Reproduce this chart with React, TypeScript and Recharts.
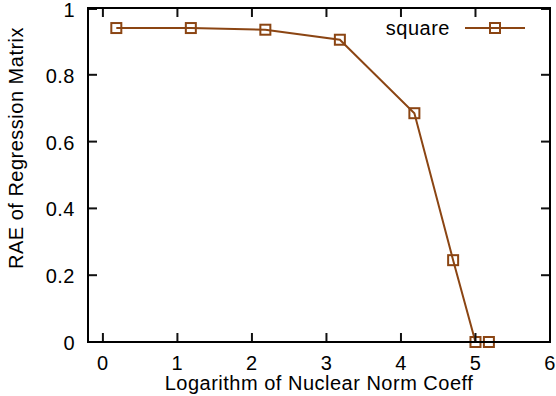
import React from 'react';
import { LineChart, Line, XAxis, YAxis, ReferenceLine } from 'recharts';

// log10 of the nuclear norm coefficient
const coeffLog = [0.18, 1.18, 2.18, 3.18, 4.18, 4.7, 5.0, 5.18];
const rae = [0.94, 0.94, 0.935, 0.905, 0.685, 0.245, 0, 0];
const xTicks = [0, 1, 2, 3, 4, 5, 6];
const yTicks = [0, 0.2, 0.4, 0.6, 0.8, 1];
const seriesName = 'square';

const data = coeffLog.map((x, i) => ({ x, y: rae[i] }));

const BROWN = '#8b4513';
const INK = '#111111';
const FONT = '"Liberation Sans", Arial, sans-serif';
const TICK = 9;
const W = 556;
const H = 396;
const LEFT = 88;
const TOP = 8;
const BOTTOM = 54;
const RIGHT = 6;
const PLOT_W = W - LEFT - RIGHT;
const PLOT_H = H - TOP - BOTTOM;

// gnuplot style: inward ticks, mirrored on the opposite side
const BottomTick = (props: any) => {
    const { x, y, payload, span } = props;
    return (
        <g>
            <line x1={x} y1={y} x2={x} y2={y - TICK} stroke={INK} strokeWidth={2} />
            <line x1={x} y1={y - span} x2={x} y2={y - span + TICK} stroke={INK} strokeWidth={2} />
            <text x={x} y={y + 28} textAnchor="middle" fontSize={20} letterSpacing={0.5} fontFamily={FONT} fill="#000">
                {payload.value}
            </text>
        </g>
    );
};

const LeftTick = (props: any) => {
    const { x, y, payload, span } = props;
    return (
        <g>
            <line x1={x} y1={y} x2={x + TICK} y2={y} stroke={INK} strokeWidth={2} />
            <line x1={x + span} y1={y} x2={x + span - TICK} y2={y} stroke={INK} strokeWidth={2} />
            <text x={x - 13} y={y + 8} textAnchor="end" fontSize={20} letterSpacing={0.5} fontFamily={FONT} fill="#000">
                {payload.value}
            </text>
        </g>
    );
};

const SquareDot = (props: any) => {
    const { cx, cy, index } = props;
    return <rect key={index} x={cx - 5} y={cy - 5} width={10} height={10} fill="none" stroke={BROWN} strokeWidth={2} />;
};

export default function App() {
    return (
        <div style={{ position: 'absolute', left: 0, top: 0, width: W, height: H, background: '#fff' }}>
            <LineChart width={W} height={H} data={data} margin={{ top: TOP, right: RIGHT, left: 0, bottom: 0 }}>
                <XAxis
                    dataKey="x"
                    type="number"
                    domain={[-0.2, 6]}
                    ticks={xTicks}
                    height={BOTTOM}
                    axisLine={{ stroke: INK, strokeWidth: 2 }}
                    tickSize={0}
                    tickMargin={0}
                    tick={<BottomTick span={PLOT_H} />}
                />
                <YAxis
                    type="number"
                    domain={[0, 1]}
                    ticks={yTicks}
                    width={LEFT}
                    axisLine={{ stroke: INK, strokeWidth: 2 }}
                    tickSize={0}
                    tickMargin={0}
                    tick={<LeftTick span={PLOT_W} />}
                />
                <ReferenceLine y={1} stroke={INK} strokeWidth={2} />
                <ReferenceLine x={6} stroke={INK} strokeWidth={2} />
                <Line
                    dataKey="y"
                    name={seriesName}
                    stroke={BROWN}
                    strokeWidth={2}
                    dot={<SquareDot />}
                    isAnimationActive={false}
                />
                <g fontFamily={FONT} fontSize={20} letterSpacing={0.5} fill="#000">
                    <text x={450} y={35} textAnchor="end">{seriesName}</text>
                    <line x1={465} y1={28} x2={525} y2={28} stroke={BROWN} strokeWidth={2} />
                    <rect x={490} y={23} width={10} height={10} fill="none" stroke={BROWN} strokeWidth={2} />
                    <text x={319} y={390} textAnchor="middle">Logarithm of Nuclear Norm Coeff</text>
                    <text x={23} y={148} textAnchor="middle" transform="rotate(-90 23 148)">
                        RAE of Regression Matrix
                    </text>
                </g>
            </LineChart>
            {/* plot border as a plain box, in case the svg frame does not paint */}
            <div
                style={{
                    position: 'absolute', left: LEFT - 1, top: TOP - 1, width: PLOT_W + 2, height: PLOT_H + 2,
                    boxSizing: 'border-box', border: '2px solid #000', pointerEvents: 'none',
                }}
            />
        </div>
    );
}
